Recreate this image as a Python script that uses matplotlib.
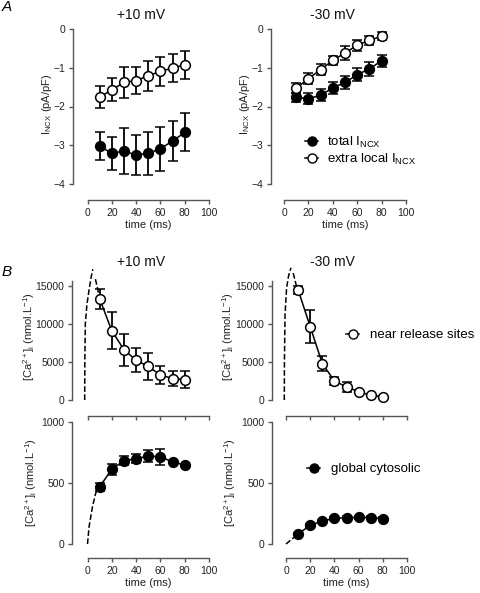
import matplotlib
matplotlib.use("Agg")
import matplotlib.pyplot as plt
from matplotlib.lines import Line2D

plt.rcParams['font.family'] = ['Liberation Sans', 'DejaVu Sans']
plt.rcParams['mathtext.fontset'] = 'custom'
plt.rcParams['mathtext.rm'] = 'Liberation Sans'
plt.rcParams['mathtext.it'] = 'Liberation Sans:italic'
plt.rcParams['mathtext.bf'] = 'Liberation Sans:bold'

# ---------------- data ----------------
time_ms = [10, 20, 30, 40, 50, 60, 70, 80]

# Panel A, +10 mV
a10_total = [-3.02, -3.21, -3.15, -3.25, -3.21, -3.09, -2.89, -2.67]
a10_total_err = [0.37, 0.43, 0.60, 0.52, 0.56, 0.57, 0.52, 0.49]
a10_local = [-1.76, -1.57, -1.38, -1.33, -1.21, -1.09, -1.01, -0.92]
a10_local_err = [0.29, 0.30, 0.41, 0.35, 0.39, 0.38, 0.36, 0.36]

# Panel A, -30 mV
a30_total = [-1.76, -1.80, -1.71, -1.52, -1.38, -1.18, -1.03, -0.82]
a30_total_err = [0.12, 0.14, 0.15, 0.16, 0.18, 0.17, 0.17, 0.16]
a30_local = [-1.53, -1.28, -1.05, -0.81, -0.62, -0.42, -0.29, -0.19]
a30_local_err = [0.13, 0.14, 0.14, 0.12, 0.17, 0.14, 0.12, 0.10]

# Panel B, near release sites (nmol/L)
b10_local = [13300, 9120, 6610, 5240, 4410, 3300, 2820, 2690]
b10_local_err = [1300, 2400, 2100, 1600, 1800, 1150, 1000, 1100]
b30_local = [14500, 9650, 4800, 2510, 1720, 1100, 620, 400]
b30_local_err = [500, 2200, 1000, 530, 650, 150, 100, 80]

# Panel B, global cytosolic (nmol/L)
b10_glob = [470, 612, 683, 699, 721, 716, 672, 648]
b10_glob_err = [33, 44, 37, 38, 49, 65, 12, 10]
b30_glob = [82, 153, 189, 210, 216, 219, 216, 208]
b30_glob_err = [8, 10, 10, 10, 10, 10, 10, 10]

# dashed fit curves
b10_rise_t = [-2.3, -2.2, -1.8, -0.5, 1.1, 2.8, 4.4]
b10_rise_v = [0, 5000, 10000, 12500, 14300, 16000, 17200]
b10_decay_t = [6.5, 8.0, 10.0]
b10_decay_v = [15900, 14900, 13300]
b30_rise_t = [-1.4, -1.3, -0.8, 0.5, 2.2, 4.1]
b30_rise_v = [0, 5000, 11200, 14750, 16400, 17400]
b30_decay_t = [6.0, 8.3, 10.0]
b30_decay_v = [16700, 15200, 14500]
b10_glob_fit_t = [0, 1.3, 4.1, 6.8, 10]
b10_glob_fit_v = [0, 142, 306, 418, 470]
b30_glob_fit_t = [0, 10]
b30_glob_fit_v = [0, 82]

xticks = [0, 20, 40, 60, 80, 100]

# ---------------- layout ----------------
W, H = 480, 593
fig = plt.figure(figsize=(W / 100, H / 100), dpi=100)
PX = 0.72  # points per pixel
SPC = '#555555'


def fx(x):
    return x / W


def fy(y):
    return 1 - y / H


def make_ax(x0, x1, ytop, ybot, ylim, left_spine_px, bottom_spine_px,
            yticks, ybounds, xlabels=True):
    ax = fig.add_axes([fx(x0), fy(ybot), (x1 - x0) / W, (ybot - ytop) / H])
    ax.set_xlim(0, 100)
    ax.set_ylim(*ylim)
    for s in ['top', 'right']:
        ax.spines[s].set_visible(False)
    ax.spines['left'].set_position(('outward', (x0 - left_spine_px) * PX))
    ax.spines['bottom'].set_position(('outward', (bottom_spine_px - ybot) * PX))
    ax.spines['left'].set_bounds(*ybounds)
    ax.spines['bottom'].set_bounds(0, 100)
    for s in ['left', 'bottom']:
        ax.spines[s].set_color(SPC)
        ax.spines[s].set_linewidth(1.0)
    ax.set_xticks(xticks)
    ax.set_yticks(yticks)
    ax.tick_params(direction='out', length=3, width=1.0, color=SPC,
                   labelsize=7.5, pad=2.5, labelcolor='#222222')
    if not xlabels:
        ax.set_xticklabels([])
    else:
        ax.set_xlabel('time (ms)', fontsize=8, labelpad=2, color='#222222')
    ax.patch.set_alpha(0)
    return ax


def ylab(ax, text, xc, yc):
    ax.set_ylabel(text, fontsize=8, color='#222222')
    ax.yaxis.set_label_coords(fx(xc), fy(yc), transform=fig.transFigure)
    ax.yaxis.label.set_verticalalignment('center')


def series(ax, y, err, filled, ms=7):
    ax.errorbar(time_ms, y, yerr=err, fmt='o-', color='k', lw=1.1,
                elinewidth=1.3, capsize=3.3, capthick=1.3,
                ms=ms, mfc='k' if filled else 'white', mec='k', mew=1.1,
                clip_on=False, zorder=3)


# Panel A left
axA1 = make_ax(87.5, 209, 29, 184, (-4, 0), 73, 200, [0, -1, -2, -3, -4], (-4, 0))
series(axA1, a10_total, a10_total_err, True)
series(axA1, a10_local, a10_local_err, False)
ylab(axA1, 'I$_{\\mathrm{NCX}}$ (pA/pF)', 47, 104)

# Panel A right
axA2 = make_ax(284, 406, 29, 184, (-4, 0), 271, 200, [0, -1, -2, -3, -4], (-4, 0))
series(axA2, a30_total, a30_total_err, True)
series(axA2, a30_local, a30_local_err, False)
ylab(axA2, 'I$_{\\mathrm{NCX}}$ (pA/pF)', 245, 104)
hA = [Line2D([], [], color='k', lw=1.1, marker='o', ms=6.5, mfc='k', mec='k'),
      Line2D([], [], color='k', lw=1.1, marker='o', ms=6.5, mfc='white', mec='k')]
axA2.legend(hA, ['total I$_{\\mathrm{NCX}}$', 'extra local I$_{\\mathrm{NCX}}$'],
            loc='center left', bbox_to_anchor=(fx(305), fy(151)),
            bbox_transform=fig.transFigure, frameon=False, fontsize=9.5,
            handlelength=1.0, handletextpad=0.7, labelspacing=0.15,
            borderpad=0, borderaxespad=0)

# Panel B top
btop = 400 - 17300 * (400 - 286) / 15000
ca_lab = '[Ca$^{2+}$]$_{\\mathrm{i}}$ (nmol.L$^{-1}$)'
axB1 = make_ax(87.5, 209, btop, 400, (0, 17300), 72, 416,
               [0, 5000, 10000, 15000], (0, 15600), xlabels=False)
axB1.plot(b10_rise_t, b10_rise_v, '--', color='k', lw=1.1, clip_on=False)
axB1.plot(b10_decay_t, b10_decay_v, '--', color='k', lw=1.1, clip_on=False)
series(axB1, b10_local, b10_local_err, False)
ylab(axB1, ca_lab, 29, 337)

axB2 = make_ax(286, 407, btop, 400, (0, 17300), 272, 416,
               [0, 5000, 10000, 15000], (0, 15600), xlabels=False)
axB2.plot(b30_rise_t, b30_rise_v, '--', color='k', lw=1.1, clip_on=False)
axB2.plot(b30_decay_t, b30_decay_v, '--', color='k', lw=1.1, clip_on=False)
series(axB2, b30_local, b30_local_err, False)
ylab(axB2, ca_lab, 228, 337)
axB2.legend([Line2D([], [], color='k', lw=1.1, marker='o', ms=6.5, mfc='white', mec='k')],
            ['near release sites'], loc='center left',
            bbox_to_anchor=(fx(346), fy(335)), bbox_transform=fig.transFigure,
            frameon=False, fontsize=9.5, handlelength=1.0, handletextpad=0.8,
            borderpad=0, borderaxespad=0)

# Panel B bottom
axB3 = make_ax(87.5, 209, 422, 544, (0, 1000), 72, 558, [0, 500, 1000], (0, 1000))
axB3.plot(b10_glob_fit_t, b10_glob_fit_v, '--', color='k', lw=1.1, clip_on=False)
series(axB3, b10_glob, b10_glob_err, True)
ylab(axB3, ca_lab, 31, 483)

axB4 = make_ax(286, 407, 422, 544, (0, 1000), 272, 558, [0, 500, 1000], (0, 1000))
axB4.plot(b30_glob_fit_t, b30_glob_fit_v, '--', color='k', lw=1.1, clip_on=False)
series(axB4, b30_glob, b30_glob_err, True)
ylab(axB4, ca_lab, 230, 483)
axB4.legend([Line2D([], [], color='k', lw=1.1, marker='o', ms=6.5, mfc='k', mec='k')],
            ['global cytosolic'], loc='center left',
            bbox_to_anchor=(fx(307), fy(469)), bbox_transform=fig.transFigure,
            frameon=False, fontsize=9.5, handlelength=1.0, handletextpad=0.8,
            borderpad=0, borderaxespad=0)

# titles and panel letters
for (x, y, t) in [(141, 15, '+10 mV'), (332, 15, '-30 mV'),
                  (141, 262, '+10 mV'), (332, 262, '-30 mV')]:
    fig.text(fx(x), fy(y), t, ha='center', va='center', fontsize=10, color='#111111')
fig.text(fx(2), fy(7), 'A', ha='left', va='center', fontsize=11, style='italic')
fig.text(fx(2), fy(272), 'B', ha='left', va='center', fontsize=11, style='italic')

fig.savefig('out.png', dpi=100)
